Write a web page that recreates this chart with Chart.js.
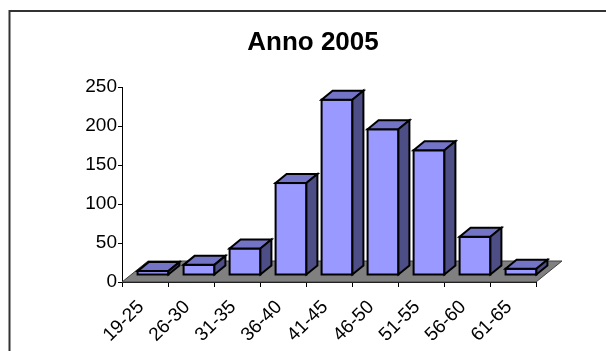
<!DOCTYPE html>
<html>
<head>
<meta charset="utf-8">
<script src="https://cdn.jsdelivr.net/npm/chart.js@4"></script>
<style>
    html, body { margin: 0; padding: 0; background: #fff; }
    #wrap { width: 606px; height: 351px; }
</style>
</head>
<body>
<div id="wrap"><canvas id="ageChart" width="606" height="351"></canvas></div>
<script>
const categories = ['19-25', '26-30', '31-35', '36-40', '41-45', '46-50', '51-55', '56-60', '61-65'];
const values = [5, 13, 34, 118, 225, 187, 160, 49, 8];
const yTicks = [0, 50, 100, 150, 200, 250];
const chartTitle = 'Anno 2005';

const FRONT = '#9999ff', TOP = '#7474c6', SIDE = '#4e4e86', FLOOR = '#808080';
const FLOOR_DX = 26, FLOOR_DY = 21;   // depth of the floor
const BAR_DX = 11, BAR_DY = 9;        // depth of a column
const SHIFT_X = 8, SHIFT_Y = -7;      // columns stand a little back on the floor

// outer frame of the chart object (only left and top edges are in view)
const frame = {
    id: 'frame',
    beforeDraw(chart) {
        const c = chart.ctx;
        c.save();
        c.strokeStyle = '#333';
        c.lineWidth = 2;
        c.beginPath();
        c.moveTo(9.5, chart.height);
        c.lineTo(9.5, 11);
        c.lineTo(chart.width, 11);
        c.stroke();
        c.restore();
    }
};

// gray floor + top and side faces of the columns
const depth = {
    id: 'depth',
    beforeDatasetsDraw(chart) {
        const c = chart.ctx, x = chart.scales.x, y = chart.scales.y;
        const y0 = y.getPixelForValue(0);
        c.save();
        c.fillStyle = FLOOR;
        c.strokeStyle = '#404040';
        c.lineWidth = 1;
        c.beginPath();
        c.moveTo(x.left, y0);
        c.lineTo(x.right, y0);
        c.lineTo(x.right + FLOOR_DX, y0 - FLOOR_DY);
        c.lineTo(x.left + FLOOR_DX, y0 - FLOOR_DY);
        c.closePath();
        c.fill();
        c.stroke();
        c.restore();
        c.save();
        c.translate(SHIFT_X, SHIFT_Y);
    },
    afterDatasetsDraw(chart) {
        const c = chart.ctx;
        c.lineWidth = 2;
        c.strokeStyle = '#000';
        c.lineJoin = 'miter';
        chart.getDatasetMeta(0).data.forEach(bar => {
            const { x, y, base, width } = bar.getProps(['x', 'y', 'base', 'width'], true);
            const l = x - width / 2, r = x + width / 2;
            c.strokeRect(l, y, width, base - y);

            c.beginPath();
            c.moveTo(l, y);
            c.lineTo(r, y);
            c.lineTo(r + BAR_DX, y - BAR_DY);
            c.lineTo(l + BAR_DX, y - BAR_DY);
            c.closePath();
            c.fillStyle = TOP;
            c.fill();
            c.stroke();

            c.beginPath();
            c.moveTo(r, y);
            c.lineTo(r + BAR_DX, y - BAR_DY);
            c.lineTo(r + BAR_DX, base - BAR_DY);
            c.lineTo(r, base);
            c.closePath();
            c.fillStyle = SIDE;
            c.fill();
            c.stroke();
        });
        c.restore();
    }
};

const font = { family: '"Liberation Sans", Arial, sans-serif', size: 19 };

new Chart(document.getElementById('ageChart'), {
    type: 'bar',
    data: {
        labels: categories,
        datasets: [{
            data: values,
            backgroundColor: FRONT,
            borderWidth: 0,
            barPercentage: 0.67,
            categoryPercentage: 1,
            clip: false
        }]
    },
    options: {
        responsive: false,
        animation: false,
        layout: { padding: { left: 20, right: 0, top: 0, bottom: 0 } },
        plugins: {
            legend: { display: false },
            tooltip: { enabled: false },
            title: {
                display: true,
                text: chartTitle,
                color: '#000',
                font: { family: font.family, size: 26, weight: 'bold' },
                padding: { top: 27, bottom: 29 }
            }
        },
        scales: {
            y: {
                min: yTicks[0],
                max: yTicks[yTicks.length - 1],
                afterBuildTicks: s => { s.ticks = yTicks.map(v => ({ value: v })); },
                afterFit: s => { s.width = 102; },
                grid: { drawOnChartArea: false, tickLength: 4, color: '#000' },
                border: { color: '#000', width: 1 },
                ticks: { font, color: '#000', padding: 1 }
            },
            x: {
                offset: true,
                afterFit: s => { s.height = 69; s.paddingRight = 70; },
                grid: { offset: true, drawOnChartArea: false, tickLength: 5, color: '#000' },
                border: { color: '#000', width: 1 },
                ticks: { font, color: '#000', minRotation: 45, maxRotation: 45, autoSkip: false, padding: 9, labelOffset: -4 }
            }
        }
    },
    plugins: [frame, depth]
});
</script>
</body>
</html>
